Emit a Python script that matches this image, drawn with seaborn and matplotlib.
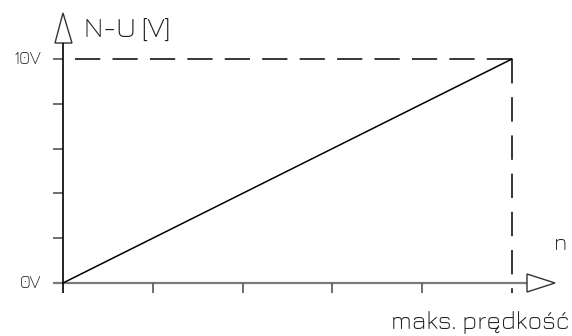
import matplotlib
matplotlib.use("Agg")
import matplotlib.pyplot as plt
import seaborn as sns
import pandas as pd
from matplotlib.patches import Polygon

# data: speed in tick units (0..5 = max speed), voltage 0..10 V
speed = [0, 5]
voltage = [0, 10]
x_ticks = [0, 1, 2, 3, 4, 5]
y_ticks = [0, 2, 4, 6, 8, 10]
y_labels = {0: "0V", 10: "10V"}
y_title = "N-U [V]"
x_title = "n"
x_max_label = "maks. prędkość"

sns.set_theme(style="white")
plt.rcParams["font.family"] = ["Jura", "DejaVu Sans"]

W, H = 572, 336
fig = plt.figure(figsize=(W / 100, H / 100), dpi=100)
ax = fig.add_axes([0, 0, 1, 1])
ax.set_axis_off()

# pixel mapping: origin at (63,283), x=5 at 512, y=10 at 59
x0, y0 = 63.0, 283.0
sx = (512 - 63) / 5.0
sy = (283 - 59) / 10.0
ax.set_xlim(-x0 / sx, (W - x0) / sx)
ax.set_ylim((y0 - H) / sy, y0 / sy)

def px(p):
    return (p - x0) / sx

def py(p):
    return (y0 - p) / sy

df = pd.DataFrame({"n": speed, "U": voltage})
sns.lineplot(data=df, x="n", y="U", ax=ax, color="black", lw=1.1, zorder=3)

xmax, ymax = speed[-1], voltage[-1]

# x axis (gray) and arrow
ax.plot([px(53), px(527)], [0, 0], color="#7a7a7a", lw=1.6, solid_capstyle="butt", zorder=2)
ax.add_patch(Polygon([(px(527), py(274)), (px(555), py(283)), (px(527), py(292))],
                     closed=True, fill=False, edgecolor="#333333", lw=1.0, zorder=2))
# y axis (black) and arrow
ax.plot([0, 0], [py(293), py(43)], color="black", lw=1.2, solid_capstyle="butt", zorder=4)
ax.add_patch(Polygon([(px(55), py(43)), (px(63), py(13)), (px(72), py(43))],
                     closed=True, fill=False, edgecolor="#333333", lw=1.0, zorder=2))

# ticks
for t in x_ticks[1:-1]:
    ax.plot([t, t], [0, py(293)], color="#555555", lw=1.2, solid_capstyle="butt")
for t in y_ticks[1:]:
    ax.plot([px(53), 0], [t, t], color="#555555", lw=1.2, solid_capstyle="butt")

# dashed guides from the corner
dl, = ax.plot([xmax, 0], [ymax, ymax], color="black", lw=1.1)
dl.set_dashes([16.5, 8.0])
dv, = ax.plot([xmax, xmax], [ymax, py(293)], color="black", lw=1.1)
dv.set_dashes([16.0, 9.0])

tc = "#222222"
for v, lab in y_labels.items():
    ax.text(px(41), v, lab, ha="right", va="center", fontsize=13, color=tc)
scaled = []
scaled.append((ax.text(px(84), py(31), y_title, ha="left", va="center", fontsize=14, color=tc), 86))
scaled.append((ax.text(px(570), py(322), x_max_label, ha="right", va="center", fontsize=14, color=tc), 178))
ax.text(px(561), py(244), x_title, ha="center", va="center", fontsize=16, color=tc)

# scale font sizes so the text widths match the reference
fig.canvas.draw()
r = fig.canvas.get_renderer()
for t, target in scaled:
    w = t.get_window_extent(renderer=r).width
    t.set_fontsize(t.get_fontsize() * target / w)

fig.savefig("out.png", dpi=100)
